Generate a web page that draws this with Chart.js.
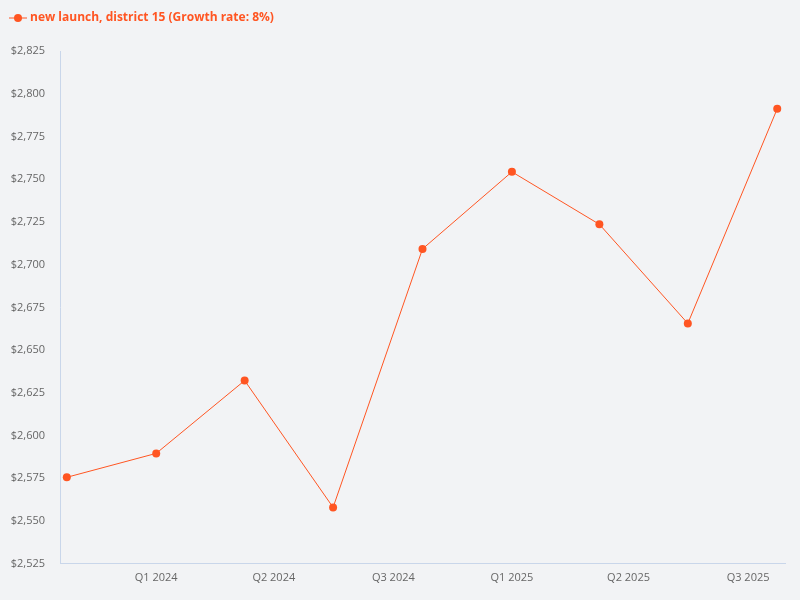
<!DOCTYPE html>
<html>
<head>
<meta charset="utf-8">
<script src="https://cdn.jsdelivr.net/npm/chart.js@4/dist/chart.umd.min.js"></script>
<style>
    html, body { margin: 0; padding: 0; background: #f2f3f5; }
    #wrap { width: 800px; height: 600px; }
</style>
</head>
<body>
<div id="wrap"><canvas id="chart"></canvas></div>
<script>
// quarterly observations
const dates = ['2023-10-01', '2024-01-01', '2024-04-01', '2024-07-01', '2024-10-01', '2025-01-01', '2025-04-01', '2025-07-01', '2025-10-01'];
const prices = [2575.6, 2589.6, 2632.2, 2558, 2709.2, 2754.3, 2723.6, 2665.6, 2791.2];
const seriesName = 'new launch, district 15 (Growth rate: 8%)';

// x-axis tick marks (every 4 months) and their labels
const tickDates = ['2024-01-01', '2024-05-01', '2024-09-01', '2025-01-01', '2025-05-01', '2025-09-01'];
const tickLabels = ['Q1 2024', 'Q2 2024', 'Q3 2024', 'Q1 2025', 'Q2 2025', 'Q3 2025'];

const yTicks = { min: 2525, max: 2825, step: 25 };

const color = '#ff5522';
const DAY = 86400000;
const origin = Date.UTC(2024, 0, 1);
const toDay = s => {
    const p = s.split('-').map(Number);
    return (Date.UTC(p[0], p[1] - 1, p[2]) - origin) / DAY;
};

const points = dates.map((d, i) => ({ x: toDay(d), y: prices[i] }));
const tickPos = tickDates.map(toDay);

// legend marker: short line with a dot
function legendIcon() {
    const c = document.createElement('canvas');
    c.width = 18; c.height = 10;
    const g = c.getContext('2d');
    g.strokeStyle = color;
    g.lineWidth = 1;
    g.beginPath(); g.moveTo(0, 5); g.lineTo(18, 5); g.stroke();
    g.fillStyle = color;
    g.beginPath(); g.arc(9, 5, 4, 0, Math.PI * 2); g.fill();
    return c;
}

// a little extra room below the legend
const legendGap = {
    id: 'legendGap',
    beforeInit(chart) {
        const fit = chart.legend.fit;
        chart.legend.fit = function () {
            fit.call(this);
            this.height += 17;
        };
    }
};

const fontFamily = "'Open Sans', 'Noto Sans', sans-serif";

new Chart(document.getElementById('chart'), {
    type: 'line',
    data: {
        datasets: [{
            label: seriesName,
            data: points,
            borderColor: color,
            backgroundColor: color,
            borderWidth: 1,
            pointRadius: 4,
            pointHoverRadius: 5,
            pointBorderWidth: 0,
            tension: 0
        }]
    },
    plugins: [legendGap],
    options: {
        responsive: true,
        maintainAspectRatio: false,
        animation: false,
        layout: { padding: { left: 0, right: 15, top: 0, bottom: 9 } },
        plugins: {
            legend: {
                position: 'top',
                align: 'start',
                labels: {
                    usePointStyle: true,
                    color: color,
                    font: { family: fontFamily, size: 12, weight: 'bold' },
                    padding: 12,
                    generateLabels: chart => {
                        const items = Chart.defaults.plugins.legend.labels.generateLabels(chart);
                        items.forEach(it => { it.pointStyle = legendIcon(); it.fontColor = color; });
                        return items;
                    }
                }
            },
            tooltip: { enabled: true }
        },
        scales: {
            x: {
                type: 'linear',
                min: -99,
                max: 647,
                grid: { display: false, drawTicks: false },
                border: { display: true, color: '#c9d6ea', width: 1 },
                afterBuildTicks: axis => {
                    axis.ticks = tickPos.map(v => ({ value: v }));
                },
                ticks: {
                    color: '#666',
                    padding: 7,
                    maxRotation: 0,
                    autoSkip: false,
                    font: { family: fontFamily, size: 11 },
                    callback: (v) => {
                        const i = tickPos.indexOf(v);
                        return i >= 0 ? tickLabels[i] : '';
                    }
                }
            },
            y: {
                min: yTicks.min,
                max: yTicks.max,
                grid: { display: false, drawTicks: false },
                border: { display: true, color: '#c9d6ea', width: 1 },
                afterFit: axis => { axis.width = 60; },
                ticks: {
                    stepSize: yTicks.step,
                    color: '#666',
                    padding: 15,
                    font: { family: fontFamily, size: 11 },
                    callback: v => '$' + v.toLocaleString('en-US')
                }
            }
        }
    }
});
</script>
</body>
</html>
